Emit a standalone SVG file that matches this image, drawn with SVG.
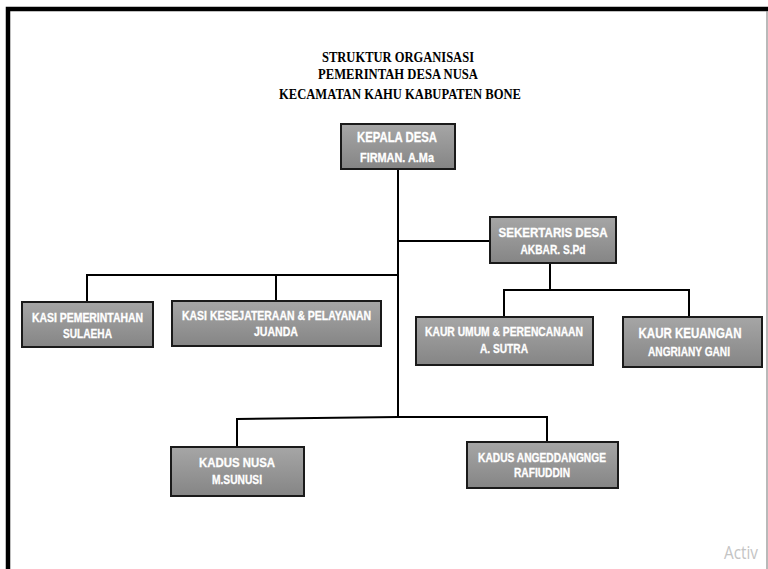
<svg xmlns="http://www.w3.org/2000/svg" width="768" height="569" viewBox="0 0 768 569">
<defs>
<linearGradient id="g" x1="0" y1="0" x2="0" y2="1">
<stop offset="0" stop-color="#a6a6a6"/>
<stop offset="1" stop-color="#858585"/>
</linearGradient>
<style>
.box{fill:url(#g);stroke:#1a1a1a;stroke-width:2}
.t{font-family:"Liberation Sans",Arial,sans-serif;font-weight:bold;fill:#ffffff;text-anchor:middle;stroke:#ffffff;stroke-width:0.3}
.title{font-family:"Liberation Serif","Times New Roman",serif;font-weight:bold;fill:#000;text-anchor:middle;font-size:15px}
.c{stroke:#000;stroke-width:2;fill:none}
</style>
</defs>
<rect width="768" height="569" fill="#fff"/>
<path d="M8 569 V9 H768" stroke="#000" stroke-width="4.5" fill="none"/>
<line x1="767" y1="11" x2="767" y2="569" stroke="#8a8a8a" stroke-width="1.2"/>
<g id="title">
<text class="title" x="398" y="62" textLength="152" lengthAdjust="spacingAndGlyphs">STRUKTUR ORGANISASI</text>
<text class="title" x="398" y="79" textLength="160" lengthAdjust="spacingAndGlyphs">PEMERINTAH DESA NUSA</text>
<text class="title" x="400" y="99" textLength="242" lengthAdjust="spacingAndGlyphs">KECAMATAN KAHU KABUPATEN BONE</text>
</g>
<g id="connectors">
<path class="c" d="M398 169 V417"/>
<path class="c" d="M398 241 H490"/>
<path class="c" d="M87 302 V275 H398"/>
<path class="c" d="M276 301 V275"/>
<path class="c" d="M550 263 V290"/>
<path class="c" d="M504 317 V290 H689 V317"/>
<path class="c" d="M237 447 V419 L398 417 H547 V442"/>
</g>
<g id="kepala-desa">
<rect class="box" x="341" y="124" width="114" height="45"/>
<text class="t" x="397" y="142" font-size="14" textLength="80" lengthAdjust="spacingAndGlyphs">KEPALA DESA</text>
<text class="t" x="397" y="162" font-size="13.5" textLength="74" lengthAdjust="spacingAndGlyphs">FIRMAN. A.Ma</text>
</g>
<g id="sekertaris-desa">
<rect class="box" x="490" y="217" width="126" height="46"/>
<text class="t" x="553" y="237" font-size="13" textLength="109" lengthAdjust="spacingAndGlyphs">SEKERTARIS DESA</text>
<text class="t" x="553" y="254" font-size="13" textLength="65" lengthAdjust="spacingAndGlyphs">AKBAR. S.Pd</text>
</g>
<g id="kasi-pemerintahan">
<rect class="box" x="22" y="302" width="131" height="45"/>
<text class="t" x="87.5" y="322" font-size="12" textLength="111" lengthAdjust="spacingAndGlyphs">KASI PEMERINTAHAN</text>
<text class="t" x="87.5" y="338" font-size="12.5" textLength="49" lengthAdjust="spacingAndGlyphs">SULAEHA</text>
</g>
<g id="kasi-kesejateraan">
<rect class="box" x="172" y="301" width="209" height="45"/>
<text class="t" x="276.5" y="320" font-size="12" textLength="189" lengthAdjust="spacingAndGlyphs">KASI KESEJATERAAN &amp; PELAYANAN</text>
<text class="t" x="276" y="336" font-size="12.5" textLength="44" lengthAdjust="spacingAndGlyphs">JUANDA</text>
</g>
<g id="kaur-umum">
<rect class="box" x="416" y="317" width="177" height="48"/>
<text class="t" x="504" y="336" font-size="12" textLength="158" lengthAdjust="spacingAndGlyphs">KAUR UMUM &amp; PERENCANAAN</text>
<text class="t" x="504" y="353" font-size="13" textLength="48" lengthAdjust="spacingAndGlyphs">A. SUTRA</text>
</g>
<g id="kaur-keuangan">
<rect class="box" x="623" y="317" width="139" height="50"/>
<text class="t" x="690" y="338" font-size="14" textLength="103" lengthAdjust="spacingAndGlyphs">KAUR KEUANGAN</text>
<text class="t" x="689" y="356" font-size="13" textLength="82" lengthAdjust="spacingAndGlyphs">ANGRIANY GANI</text>
</g>
<g id="kadus-nusa">
<rect class="box" x="171" y="447" width="133" height="49"/>
<text class="t" x="237" y="467" font-size="13.5" textLength="76" lengthAdjust="spacingAndGlyphs">KADUS NUSA</text>
<text class="t" x="237" y="484" font-size="12.5" textLength="50" lengthAdjust="spacingAndGlyphs">M.SUNUSI</text>
</g>
<g id="kadus-angeddangnge">
<rect class="box" x="467" y="442" width="151" height="46"/>
<text class="t" x="542" y="462" font-size="12" textLength="128" lengthAdjust="spacingAndGlyphs">KADUS ANGEDDANGNGE</text>
<text class="t" x="542" y="477" font-size="12.5" textLength="56" lengthAdjust="spacingAndGlyphs">RAFIUDDIN</text>
</g>
<text x="724" y="559" font-family="'Open Sans','Noto Sans',sans-serif" font-size="18" fill="#c4c4c4" textLength="34" lengthAdjust="spacingAndGlyphs">Activ</text>
</svg>
